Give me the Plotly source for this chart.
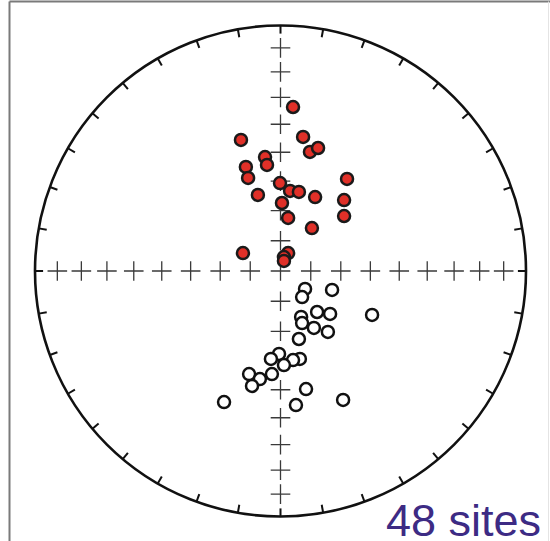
import numpy as np
import plotly.graph_objects as go

# Projected (equal-area) coordinates, unit radius: x = East, y = North
normal_x = [0.051, -0.161, 0.092, 0.120, 0.153, -0.063, -0.055, -0.141, -0.132, -0.002,
            0.271, 0.039, 0.075, -0.092, 0.141, 0.259, 0.006, 0.031, 0.259, 0.128,
            -0.153, 0.031, 0.014, 0.014]
normal_y = [0.668, 0.534, 0.546, 0.485, 0.501, 0.464, 0.432, 0.424, 0.379, 0.358,
            0.375, 0.326, 0.322, 0.310, 0.301, 0.289, 0.277, 0.216, 0.224, 0.175,
            0.073, 0.073, 0.057, 0.041]
reversed_x = [0.100, 0.210, 0.088, 0.149, 0.202, 0.373, 0.084, 0.088, 0.136, 0.193,
              0.075, -0.006, -0.039, 0.079, 0.051, 0.014, -0.128, -0.035, -0.084, -0.116,
              0.104, -0.230, 0.255, 0.063]
reversed_y = [-0.073, -0.077, -0.106, -0.167, -0.175, -0.179, -0.187, -0.212, -0.232, -0.248,
              -0.277, -0.338, -0.358, -0.358, -0.363, -0.383, -0.420, -0.420, -0.440, -0.468,
              -0.481, -0.534, -0.525, -0.546]
grid_inclinations = [90, 80, 70, 60, 50, 40, 30, 20, 10]
tick_azimuths = list(range(0, 360, 10))
label_text = "48 sites"

fig = go.Figure()

# Crosses along the N-S and E-W axes at 10 degree inclination steps
radii = [np.sqrt(1 - np.sin(np.radians(i))) for i in grid_inclinations]
cx, cy = [], []
for r in radii:
    if r == 0:
        cx.append(0); cy.append(0)
        continue
    for dx, dy in [(1, 0), (-1, 0), (0, 1), (0, -1)]:
        cx.append(dx * r); cy.append(dy * r)
fig.add_trace(go.Scatter(x=cx, y=cy, mode="markers",
                         marker=dict(symbol="cross-thin", size=14,
                                     line=dict(color="#3a3a3a", width=1.3)),
                         hoverinfo="skip"))

# Azimuth ticks on the primitive circle
tx, ty = [], []
for a in tick_azimuths:
    s, c = np.sin(np.radians(a)), np.cos(np.radians(a))
    tx += [s * 1.0, s * 0.967, None]
    ty += [c * 1.0, c * 0.967, None]
fig.add_trace(go.Scatter(x=tx, y=ty, mode="lines",
                         line=dict(color="#111", width=2), hoverinfo="skip"))

fig.add_shape(type="circle", xref="x", yref="y", x0=-1, y0=-1, x1=1, y1=1,
              line=dict(color="#111", width=2.6))

fig.add_trace(go.Scatter(x=reversed_x, y=reversed_y, mode="markers",
                         marker=dict(size=12, color="white",
                                     line=dict(color="#111", width=2.5))))
fig.add_trace(go.Scatter(x=normal_x, y=normal_y, mode="markers",
                         marker=dict(size=12, color="#e03028",
                                     line=dict(color="#1a1a1a", width=2.5))))

# Outer frame
W, H = 550, 541
fig.add_shape(type="line", xref="paper", yref="paper", x0=9.5 / W, x1=9.5 / W,
              y0=1 - 1.5 / H, y1=0, line=dict(color="#7a7a7a", width=2))
fig.add_shape(type="line", xref="paper", yref="paper", x0=9.5 / W, x1=1,
              y0=1 - 1.5 / H, y1=1 - 1.5 / H, line=dict(color="#7a7a7a", width=2))
fig.add_shape(type="line", xref="paper", yref="paper", x0=548.5 / W, x1=548.5 / W,
              y0=1 - 1.5 / H, y1=0, line=dict(color="#e4e4e4", width=1))

fig.add_annotation(text=label_text, xref="paper", yref="paper",
                   x=384 / W, y=(541 - 520) / H, xanchor="left", yanchor="middle",
                   showarrow=False,
                   font=dict(family="Liberation Sans, Arial", size=45, color="#3d2b84"))

R = 245.5
cxp, cyp = 280.5, 271
fig.update_layout(
    width=W, height=H, margin=dict(l=0, r=0, t=0, b=0),
    paper_bgcolor="white", plot_bgcolor="white", showlegend=False,
    xaxis=dict(range=[-cxp / R, (W - cxp) / R], visible=False, fixedrange=True),
    yaxis=dict(range=[(cyp - H) / R, cyp / R], visible=False, fixedrange=True),
)
fig.write_html("out.html", config={"displayModeBar": False},
               post_script="document.body.style.margin='0';document.body.style.overflow='hidden';")
